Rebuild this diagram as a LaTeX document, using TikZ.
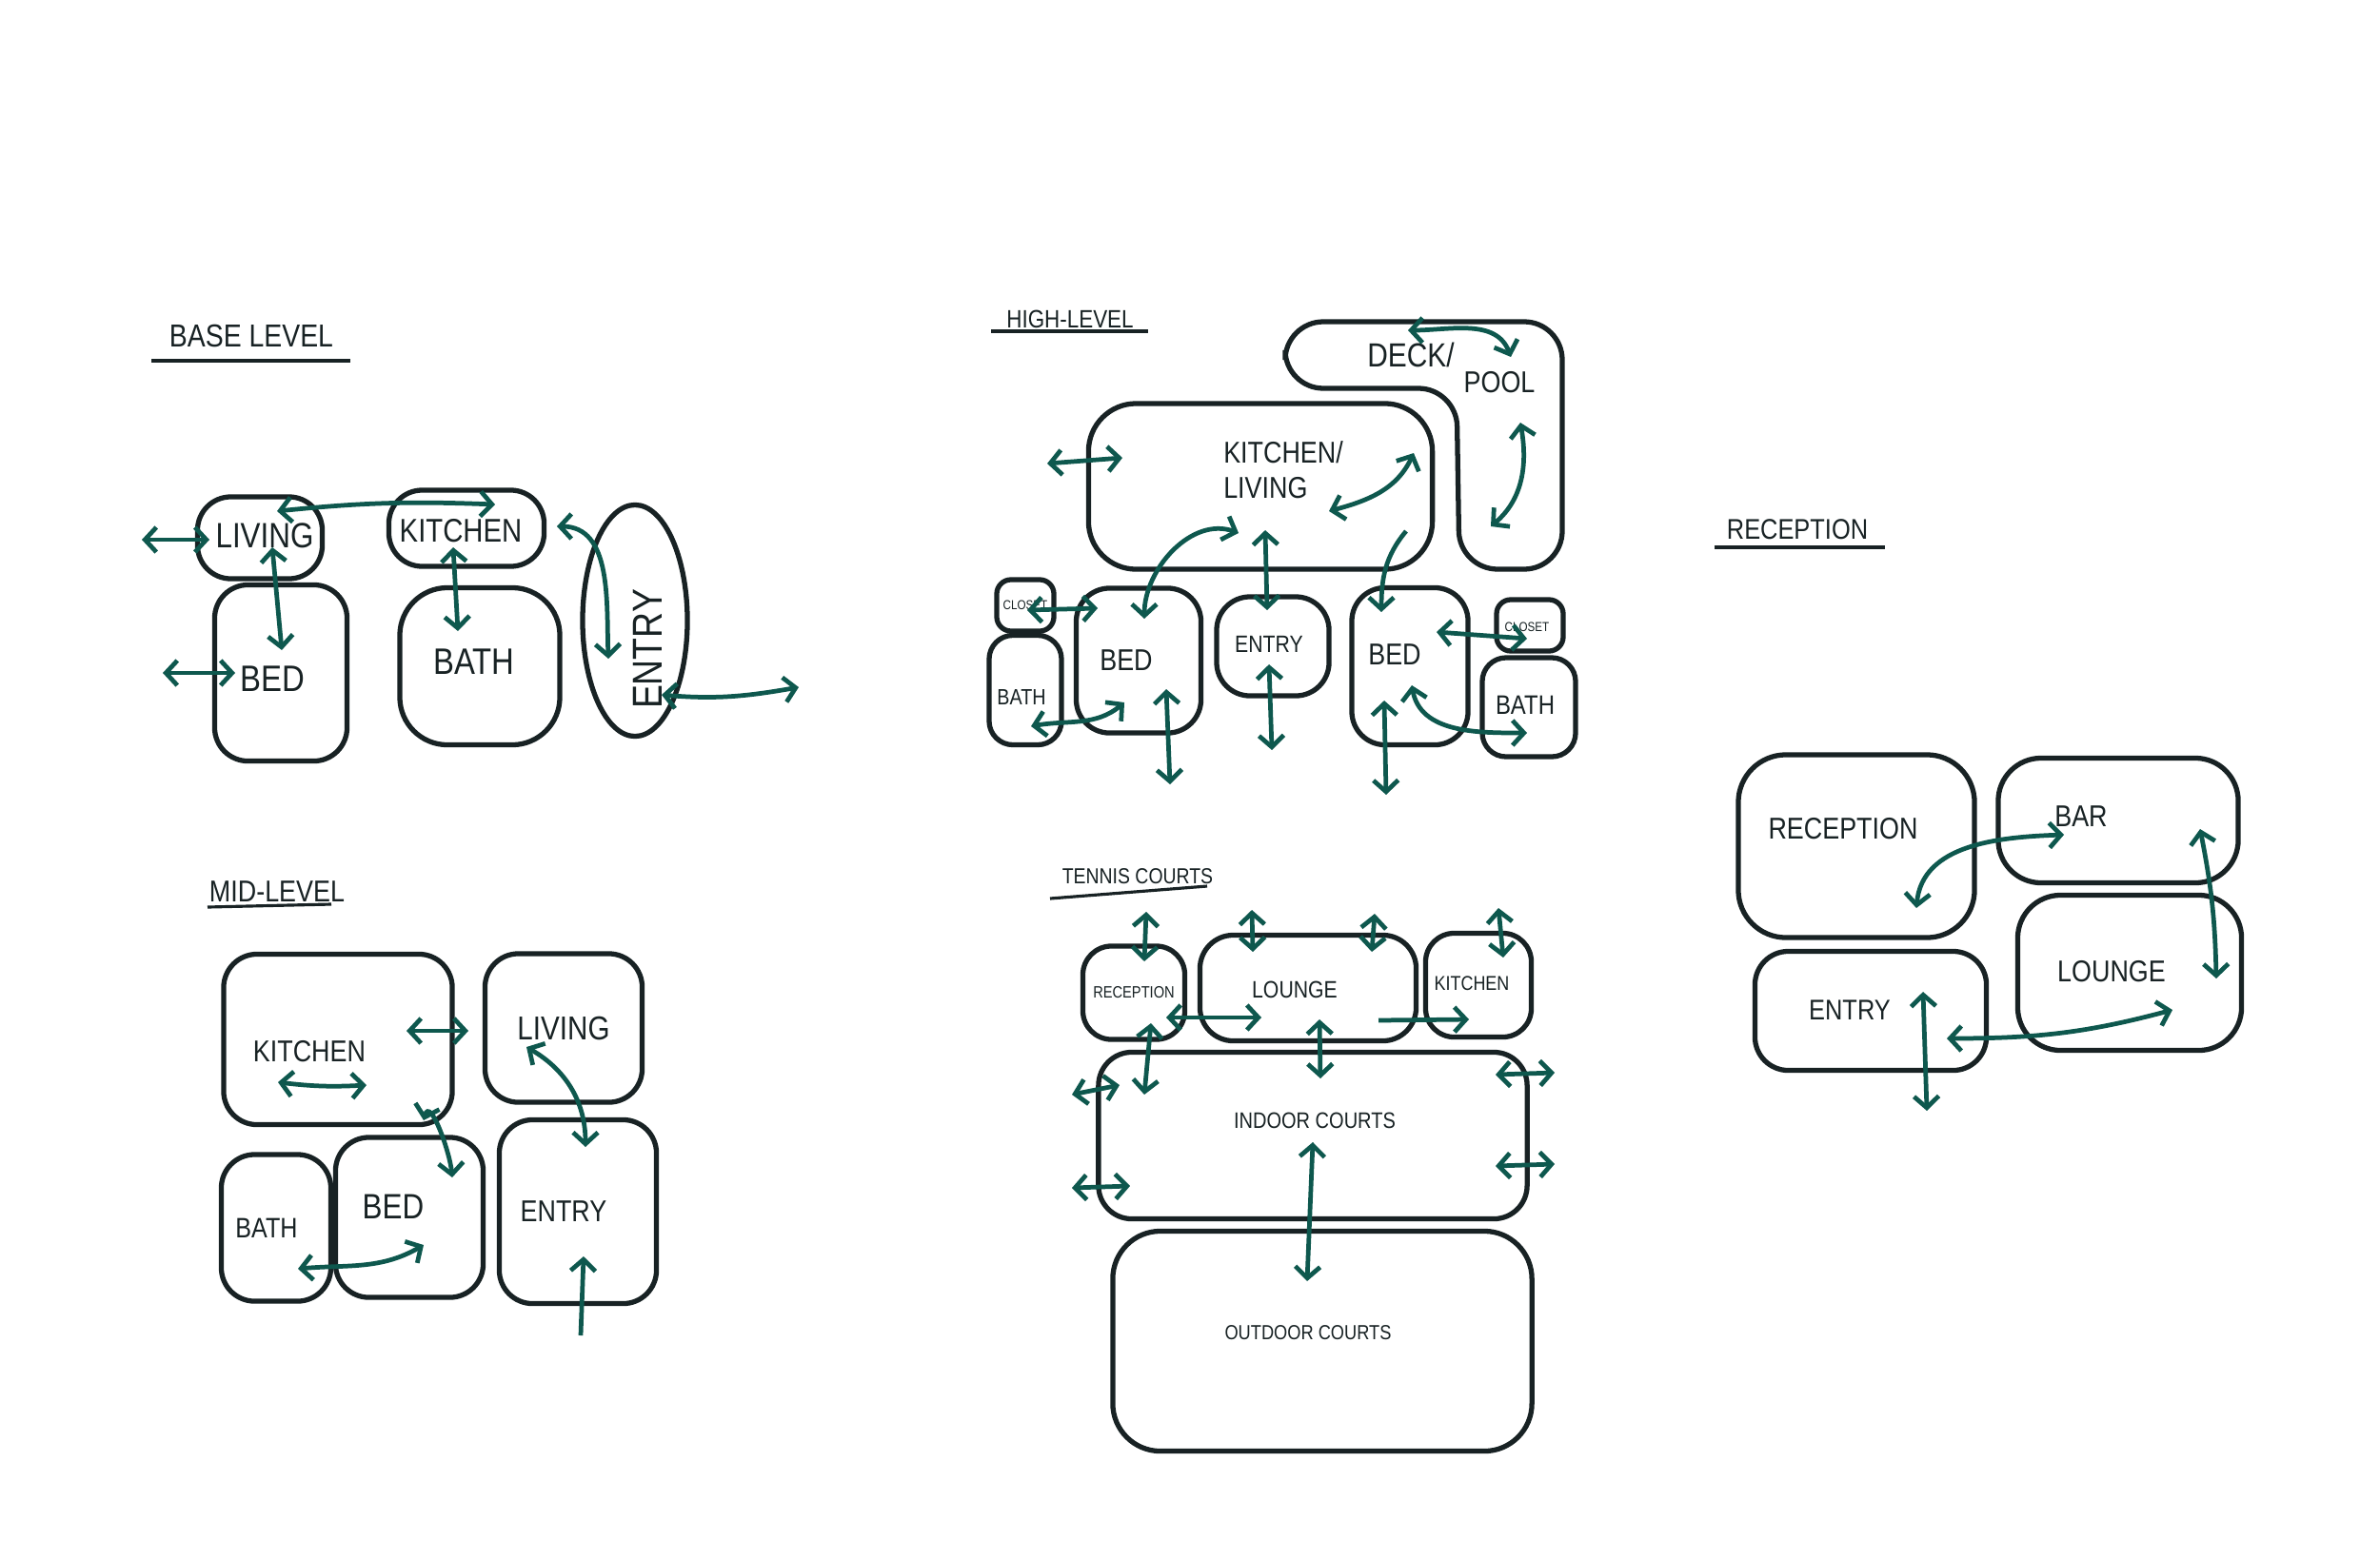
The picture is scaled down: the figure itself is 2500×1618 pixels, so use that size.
\documentclass[tikz,border=0pt]{standalone}
\usepackage{xcolor}
\usepackage{fontspec}
\setmainfont{Liberation Sans}[FakeStretch=0.85]
\usepackage{tikz}
\usetikzlibrary{
  shapes.geometric,
  arrows.meta,
  positioning
}
\definecolor{InkBlack}{RGB}{24, 34, 36}
\definecolor{MarkerTeal}{RGB}{14, 88, 78}
\tikzset{
    room/.style={draw=InkBlack, line width=1.5pt, rounded corners=3.5mm, inner sep=0pt},
    roomlabel/.style={text=InkBlack, inner sep=0pt, font=\fontsize{#1}{#1}\selectfont},
    roomlabel/.default=9,
    link/.style={draw=MarkerTeal, line width=1.35pt, <->},
    inlink/.style={draw=MarkerTeal, line width=1.35pt, ->},
    uline/.style={draw=InkBlack, line width=0.9pt}
}

\begin{document}
\begin{tikzpicture}[x=0.01cm, y=-0.01cm, >={Straight Barb[length=1.2mm,width=2.6mm]}]
\fill[white] (0,0) rectangle (2500,1618);
\useasboundingbox (0,0) rectangle (2500,1618);

% base level
\node[roomlabel=9.5] (btitle) at (264,353) {BASE LEVEL};
\draw[uline] ([shift={(-105,26)}]btitle.center) -- ([shift={(104,26)}]btitle.center);
\node[room, minimum width=1.31cm, minimum height=0.86cm, label={[roomlabel=10.5, xshift=0.5mm, yshift=0.2mm]center:LIVING}] (bliv) at (273,565) {};
\node[room, minimum width=1.63cm, minimum height=0.80cm, label={[roomlabel=9.8, xshift=-0.6mm, yshift=-0.3mm]center:KITCHEN}] (bkit) at (490,555) {};
\node[room, minimum width=1.39cm, minimum height=1.85cm, label={[roomlabel=11, xshift=-0.9mm, yshift=-0.6mm]center:BED}] (bbed) at (295,707) {};
\node[room, rounded corners=5mm, minimum width=1.68cm, minimum height=1.65cm, label={[roomlabel=11, xshift=-0.6mm, yshift=0.5mm]center:BATH}] (bbath) at (504,700) {};
\node[room, ellipse, minimum width=1.10cm, minimum height=2.43cm] (bent) at (667,652) {};
\node[roomlabel=12.5, rotate=90] (bent-t) at (680,682) {ENTRY};
\draw[link] ([shift={(-124,2)}]bliv.center) -- ([shift={(-53,2)}]bliv.center);
\draw[link] ([shift={(18,-28)}]bliv.center) to[bend left=4] ([shift={(30,-25)}]bkit.center);
\draw[link] ([shift={(13,10)}]bliv.center) -- ([shift={(1,-24)}]bbed.center);
\draw[link] ([shift={(-14,20)}]bkit.center) -- ([shift={(-23,-37)}]bbath.center);
\draw[link] ([shift={(95,-2)}]bkit.center) to[out=0, in=92] ([shift={(-28,40)}]bent.center);
\draw[link] ([shift={(-124,0)}]bbed.center) -- ([shift={(-48,0)}]bbed.center);
\draw[link] ([shift={(28,78)}]bent.center) to[out=-5, in=190] ([shift={(172,70)}]bent.center);

% mid level
\node[roomlabel=9] (mtitle) at (291,937) {MID-LEVEL};
\draw[uline] ([shift={(-73,16)}]mtitle.center) -- ([shift={(57,13)}]mtitle.center);
\node[room, minimum width=2.40cm, minimum height=1.79cm, label={[roomlabel=9, xshift=-3mm, yshift=-1.3mm]center:KITCHEN}] (mkit) at (355,1092) {};
\node[room, minimum width=1.65cm, minimum height=1.56cm, label={[roomlabel=9.9]center:LIVING}] (mliv) at (592,1080) {};
\node[room, minimum width=1.15cm, minimum height=1.54cm, label={[roomlabel=8.4, xshift=-1mm]center:BATH}] (mbath) at (290,1290) {};
\node[room, minimum width=1.55cm, minimum height=1.68cm, label={[roomlabel=10.5, xshift=-1.7mm, yshift=1.1mm]center:BED}] (mbed) at (430,1279) {};
\node[room, minimum width=1.65cm, minimum height=1.93cm, label={[roomlabel=9, xshift=-1.5mm]center:ENTRY}] (ment) at (607,1273) {};
\draw[link] ([shift={(-63,45)}]mkit.center) to[bend right=5] ([shift={(30,48)}]mkit.center);
\draw[link] ([shift={(72,-9)}]mkit.center) -- ([shift={(-100,3)}]mliv.center);
\draw[link] ([shift={(90,85)}]mkit.center) to[out=75, in=95] ([shift={(45,-42)}]mbed.center);
\draw[link] ([shift={(-39,20)}]mliv.center) to[out=-30, in=90] ([shift={(8,-68)}]ment.center);
\draw[link] ([shift={(15,29)}]mbed.center) to[out=-150, in=5] ([shift={(23,43)}]mbath.center);
\draw[inlink] ([shift={(3,130)}]ment.center) -- ([shift={(6,47)}]ment.center);

% high level
\node[roomlabel=7.5] (htitle) at (1124,335) {HIGH-LEVEL};
\draw[uline] ([shift={(-83,13)}]htitle.center) -- ([shift={(82,13)}]htitle.center);
\draw[room, rounded corners=4mm] (1350,338) -- (1641,338) -- (1641,598) -- (1533,598) -- (1530,408) -- (1350,408) -- cycle;
\node[roomlabel=10] (hdeck-t) at (1482,373) {DECK/};
\node[roomlabel=9] (hpool-t) at (1575,402) {POOL};
\node[room, rounded corners=5mm, minimum width=3.61cm, minimum height=1.74cm, label={[roomlabel=9, align=left, xshift=2.4mm, yshift=1.7mm, font=\fontsize{9}{10.5}\selectfont]center:KITCHEN/\\LIVING}] (hkl) at (1324,511) {};
\node[room, rounded corners=1.5mm, minimum width=0.60cm, minimum height=0.54cm, label={[roomlabel=3.9]center:CLOSET}] (hclo1) at (1077,636) {};
\node[room, rounded corners=2.5mm, minimum width=0.76cm, minimum height=1.15cm, label={[roomlabel=6.6, xshift=-0.4mm, yshift=-0.8mm]center:BATH}] (hbath1) at (1077,725) {};
\node[room, minimum width=1.31cm, minimum height=1.52cm, label={[roomlabel=9, xshift=-1.3mm]center:BED}] (hbed1) at (1196,694) {};
\node[room, minimum width=1.18cm, minimum height=1.04cm, label={[roomlabel=7.1, xshift=-0.4mm, yshift=0.2mm]center:ENTRY}] (hent) at (1337,679) {};
\node[room, minimum width=1.22cm, minimum height=1.65cm, label={[roomlabel=9, xshift=-1.6mm, yshift=1.2mm]center:BED}] (hbed2) at (1481,700) {};
\node[room, rounded corners=1.5mm, minimum width=0.70cm, minimum height=0.54cm, label={[roomlabel=3.9, xshift=-0.3mm, yshift=-0.2mm]center:CLOSET}] (hclo2) at (1607,657) {};
\node[room, rounded corners=2.5mm, minimum width=0.98cm, minimum height=1.04cm, label={[roomlabel=8, xshift=-0.4mm, yshift=0.2mm]center:BATH}] (hbath2) at (1606,743) {};
\draw[link] ([shift={(-224,-24)}]hkl.center) -- ([shift={(-145,-30)}]hkl.center);
\draw[link] ([shift={(72,26)}]hkl.center) to[out=15, in=-115] ([shift={(-90,74)}]hpool-t.center);
\draw[link] ([shift={(-3,-26)}]hdeck-t.center) to[out=0, in=110] ([shift={(12,-27)}]hpool-t.center);
\draw[link] ([shift={(22,42)}]hpool-t.center) to[out=-80, in=40] ([shift={(-9,151)}]hpool-t.center);
\draw[link] ([shift={(-23,49)}]hkl.center) to[out=160, in=90] ([shift={(6,-44)}]hbed1.center);
\draw[link] ([shift={(5,46)}]hkl.center) -- ([shift={(-6,-38)}]hent.center);
\draw[inlink] ([shift={(153,47)}]hkl.center) to[out=-130, in=90] ([shift={(-30,-57)}]hbed2.center);
\draw[link] ([shift={(2,5)}]hclo1.center) -- ([shift={(-43,-55)}]hbed1.center);
\draw[link] ([shift={(-15,44)}]hbed1.center) to[out=-140, in=10] ([shift={(6,38)}]hbath1.center);
\draw[link] ([shift={(29,30)}]hbed1.center) -- ([shift={(33,130)}]hbed1.center);
\draw[link] ([shift={(-4,19)}]hent.center) -- ([shift={(-1,109)}]hent.center);
\draw[link] ([shift={(28,-36)}]hbed2.center) -- ([shift={(-3,14)}]hclo2.center);
\draw[link] ([shift={(-27,36)}]hbed2.center) -- ([shift={(-25,135)}]hbed2.center);
\draw[link] ([shift={(2,20)}]hbed2.center) to[out=-80, in=180] ([shift={(-2,27)}]hbath2.center);

% tennis courts
\node[roomlabel=6.5] (ttitle) at (1195,921) {TENNIS COURTS};
\draw[uline] ([shift={(-92,23)}]ttitle.center) -- ([shift={(73,10)}]ttitle.center);
\node[room, rounded corners=3mm, minimum width=1.07cm, minimum height=0.98cm, label={[roomlabel=4.9]center:RECEPTION}] (trec) at (1191,1043) {};
\node[room, minimum width=2.27cm, minimum height=1.11cm, label={[roomlabel=7.1, xshift=-1.4mm, yshift=-0.2mm]center:LOUNGE}] (tlou) at (1374,1038) {};
\node[room, rounded corners=3mm, minimum width=1.11cm, minimum height=1.09cm, label={[roomlabel=6, xshift=-0.7mm, yshift=0.2mm]center:KITCHEN}] (tkit) at (1553,1035) {};
\node[room, minimum width=4.50cm, minimum height=1.75cm, label={[roomlabel=6.7, xshift=0.2mm, yshift=1.6mm]center:INDOOR COURTS}] (tind) at (1379,1193) {};
\node[room, rounded corners=5mm, minimum width=4.40cm, minimum height=2.31cm, label={[roomlabel=6.1, xshift=-1.5mm, yshift=0.9mm]center:OUTDOOR COURTS}] (tout) at (1389,1409) {};
\draw[link] ([shift={(13,-85)}]trec.center) -- ([shift={(11,-33)}]trec.center);
\draw[link] ([shift={(-59,-82)}]tlou.center) -- ([shift={(-58,-38)}]tlou.center);
\draw[link] ([shift={(70,-78)}]tlou.center) -- ([shift={(67,-38)}]tlou.center);
\draw[link] ([shift={(21,-81)}]tkit.center) -- ([shift={(26,-29)}]tkit.center);
\draw[link] ([shift={(34,26)}]trec.center) -- ([shift={(-49,31)}]tlou.center);
\draw[inlink] ([shift={(74,34)}]tlou.center) -- ([shift={(-10,36)}]tkit.center);
\draw[link] ([shift={(18,32)}]trec.center) -- ([shift={(-177,-43)}]tind.center);
\draw[link] ([shift={(12,33)}]tlou.center) -- ([shift={(8,-60)}]tind.center);
\draw[link] ([shift={(-253,-43)}]tind.center) -- ([shift={(-203,-53)}]tind.center);
\draw[link] ([shift={(-253,55)}]tind.center) -- ([shift={(-192,53)}]tind.center);
\draw[link] ([shift={(192,-64)}]tind.center) -- ([shift={(254,-66)}]tind.center);
\draw[link] ([shift={(192,32)}]tind.center) -- ([shift={(254,30)}]tind.center);
\draw[link] ([shift={(0,7)}]tind.center) -- ([shift={(-16,-63)}]tout.center);

% reception
\node[roomlabel=8.5] (rtitle) at (1888,556) {RECEPTION};
\draw[uline] ([shift={(-87,19)}]rtitle.center) -- ([shift={(92,19)}]rtitle.center);
\node[room, rounded corners=5mm, minimum width=2.48cm, minimum height=1.92cm, label={[roomlabel=9, xshift=-1.4mm, yshift=1.8mm]center:RECEPTION}] (rrec) at (1950,889) {};
\node[room, rounded corners=4.5mm, minimum width=2.52cm, minimum height=1.31cm, label={[roomlabel=9, xshift=-3.9mm, yshift=0.4mm]center:BAR}] (rbar) at (2225,862) {};
\node[room, minimum width=2.43cm, minimum height=1.25cm, label={[roomlabel=8.5, xshift=-2.2mm, yshift=0.1mm]center:ENTRY}] (rent) at (1965,1062) {};
\node[room, rounded corners=4.5mm, minimum width=2.35cm, minimum height=1.63cm, label={[roomlabel=9, xshift=-1.9mm, yshift=0.1mm]center:LOUNGE}] (rlou) at (2237,1022) {};
\draw[link] ([shift={(63,65)}]rrec.center) to[out=85, in=182] ([shift={(-57,15)}]rbar.center);
\draw[link] ([shift={(86,9)}]rbar.center) to[bend left=5] ([shift={(91,6)}]rlou.center);
\draw[link] ([shift={(55,-20)}]rent.center) -- ([shift={(59,105)}]rent.center);
\draw[link] ([shift={(80,29)}]rent.center) to[out=0, in=-165] ([shift={(45,39)}]rlou.center);
\end{tikzpicture}
\end{document}
